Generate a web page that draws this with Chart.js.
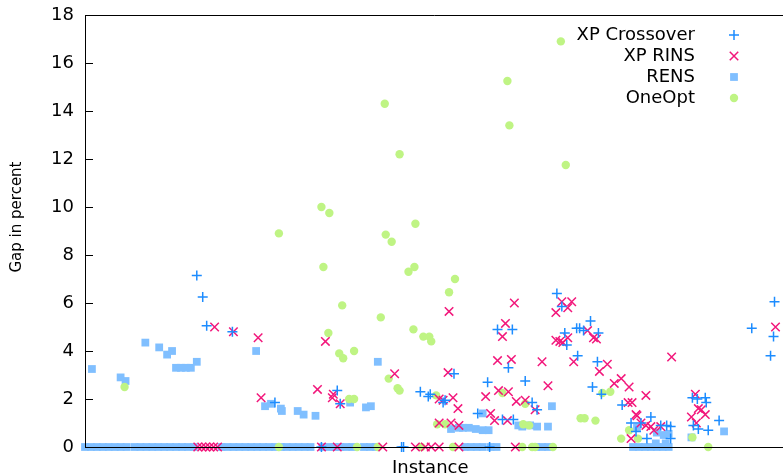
<!DOCTYPE html>
<html>
<head>
<meta charset="utf-8">
<script src="https://cdn.jsdelivr.net/npm/chart.js@4"></script>
<style>
  html, body { margin: 0; padding: 0; background: #fff; overflow: hidden; }
</style>
</head>
<body>
<canvas id="gapChart" width="783" height="475"></canvas>
<script>
// series labels, in gnuplot key order
const seriesLabels = ['XP Crossover', 'XP RINS', 'RENS', 'OneOpt'];
const yTicks = [0, 2, 4, 6, 8, 10, 12, 14, 16, 18];
const yTitle = 'Gap in percent';

// instances where the gap is 0
const crossZeroX = [119.5, 160, 161, 204.5];
const rinsZeroX = [57, 59, 61, 63, 65, 67, 119.5, 127.5, 150.5, 167, 172, 175, 179, 189, 217.5];
const rensZeroX = [0, 3, 6, 9, 12, 15, 18, 21, 25, 28, 31, 34, 37, 40, 43, 46, 49, 52, 55,
  69, 72, 75, 78, 81, 84, 87, 90, 93, 96, 99, 102, 105, 108, 111, 114,
  120, 123, 126, 129, 132, 135, 141, 144, 147, 192, 195, 198, 201, 205, 208,
  228, 231, 234, 277, 280, 283, 286, 289, 292, 295];
const oneOptZeroX = [98, 137.5, 148, 170, 186, 221, 226, 227.5, 236.5, 315];

// [instance, gap %]
const crossPts = [
  [56.5, 7.15], [59.5, 6.25], [61.5, 5.05], [74.5, 4.8], [96, 1.85], [127.5, 2.35], [129, 1.8],
  [169.5, 2.3], [173.5, 2.1], [174.5, 2.2], [181, 1.85], [182, 1.95], [186.5, 3.05], [198.5, 1.4],
  [203.5, 2.7], [208.5, 4.9], [211, 1.15], [214, 3.3], [216, 4.9], [216.5, 1.15], [222.5, 2.75],
  [226, 1.85], [228.5, 1.55], [238.5, 6.4], [241, 5.85], [242.5, 4.75], [243.5, 4.25], [248.5, 4.95],
  [250, 4.95], [252, 4.85], [255.5, 5.25], [259.5, 4.75], [249, 3.8], [259, 3.55], [256.5, 2.5],
  [261, 2.2], [271.5, 1.75], [276, 1.0], [278.5, 0.65], [281, 1.0], [284, 0.35], [286, 1.25],
  [291, 0.9], [294, 0.9], [296, 0.85], [296, 0.35], [307, 2.05], [309.5, 2.0], [313.5, 2.05],
  [314, 1.85], [307.5, 0.9], [310, 0.75], [315, 0.7], [320.5, 1.1], [337, 4.95], [348.5, 6.05],
  [348, 4.6], [346.5, 3.8]
];
const rinsPts = [
  [65.5, 5.0], [75, 4.8], [87.5, 4.55], [89, 2.05], [117.5, 2.4], [121.5, 4.4], [125.5, 2.2], [125, 2.05], [129, 1.8],
  [156.5, 3.05], [179, 2.0], [181, 1.95], [183.5, 3.1], [184, 5.65], [186, 2.05], [188.5, 1.6], [179, 1.0], [185, 1.0], [189, 0.9],
  [202.5, 2.1], [205, 1.4], [207, 1.1], [208.5, 3.6], [209, 2.35], [211, 4.6], [212.5, 5.15], [213.5, 1.1], [214, 2.3], [215.5, 3.65],
  [217, 6.0], [218, 1.9], [222.5, 1.95], [227.5, 1.55], [231, 3.55], [234, 2.55], [238, 5.6], [241, 6.05], [244, 5.8], [246, 6.05],
  [238, 4.45], [240, 4.4], [241.5, 4.35], [244, 4.55], [247, 3.55], [254, 4.85], [257, 4.55], [258.5, 4.5], [264, 3.45], [260, 3.15],
  [267.5, 2.65], [271, 2.85], [275, 2.5], [283.5, 2.15], [274.5, 1.85], [276.5, 1.85], [296.5, 3.75], [278.5, 1.35], [279, 1.3],
  [281, 1.0], [283.5, 0.9], [286, 0.85], [287.5, 0.7], [291, 0.85], [276, 0.35], [308.5, 2.2], [310, 1.6], [311.5, 1.55],
  [313.5, 1.35], [306.5, 1.25], [309, 1.0], [349, 5.0]
];
const rensPts = [
  [3.5, 3.25], [18, 2.9], [20.5, 2.75], [30.5, 4.35], [37.5, 4.15], [41.5, 3.85], [44, 4.0], [46, 3.3], [48.5, 3.3], [51, 3.3], [53.5, 3.3], [56.5, 3.55],
  [86.5, 4.0], [91, 1.7], [94, 1.8], [99, 1.6], [99.5, 1.5], [107.5, 1.5], [110.5, 1.35], [116.5, 1.3], [148, 3.55], [134, 1.85], [142, 1.65], [144.5, 1.7],
  [201, 1.4], [185, 0.75], [189, 0.8], [191, 0.8], [194, 0.8], [197.5, 0.75], [201, 0.7], [204, 0.7], [219, 0.9], [221, 0.85], [225, 0.9],
  [236, 1.7], [228.5, 0.85], [234, 0.85], [279, 0.8], [289, 0.6], [292.5, 0.5], [295, 0.55], [288.5, 0.15], [293.5, 0.15], [306.5, 0.4], [323, 0.65]
];
const oneOptPts = [
  [20, 2.5], [213.5, 15.25], [151.5, 14.3], [214.5, 13.4], [159, 12.2], [243, 11.75], [119.5, 10.0], [123.5, 9.75], [167, 9.3], [98, 8.9],
  [152, 8.85], [155, 8.55], [120.5, 7.5], [166.5, 7.5], [163.5, 7.3], [187, 7.0], [184, 6.45], [130, 5.9], [240.5, 16.9], [149.5, 5.4],
  [123, 4.75], [166, 4.9], [171, 4.6], [174, 4.6], [175, 4.4], [128.5, 3.9], [130.5, 3.7], [136, 4.0], [153.5, 2.85], [158, 2.45], [159, 2.35],
  [133.5, 2.0], [136, 2.0], [177.5, 2.15], [211, 2.25], [222.5, 1.8], [178, 0.95], [182, 0.95], [221.5, 0.95], [224.5, 0.9],
  [250.5, 1.2], [252.5, 1.2], [258, 1.1], [261.5, 2.25], [265.5, 2.3], [271, 0.35], [275, 0.7], [279.5, 0.35], [307, 0.4]
];

const FONT = '"DejaVu Sans", sans-serif';

function toData(zeroX, pts) {
  return zeroX.map(x => ({ x: x, y: 0 })).concat(pts.map(p => ({ x: p[0], y: p[1] })));
}

// gnuplot-like frame with inward y tics, drawn over the points
const framePlugin = {
  id: 'frame',
  afterDatasetsDraw(chart) {
    const ctx = chart.ctx;
    const a = chart.chartArea;
    const ys = chart.scales.y;
    ctx.save();
    ctx.strokeStyle = '#000';
    ctx.lineWidth = 1;
    ctx.beginPath();
    ctx.moveTo(783, a.top + 0.5);
    ctx.lineTo(a.left + 0.5, a.top + 0.5);
    ctx.lineTo(a.left + 0.5, a.bottom + 0.5);
    ctx.lineTo(783, a.bottom + 0.5);
    yTicks.forEach(v => {
      const py = Math.round(ys.getPixelForValue(v)) + 0.5;
      ctx.moveTo(a.left, py);
      ctx.lineTo(a.left + 8, py);
    });
    ctx.stroke();

    // y label, placed a bit above the axis middle like gnuplot does
    ctx.translate(17, 217);
    ctx.rotate(-Math.PI / 2);
    ctx.font = '15px ' + FONT;
    ctx.fillStyle = '#000';
    ctx.textAlign = 'center';
    ctx.textBaseline = 'middle';
    ctx.fillText(yTitle, 0, 0);
    ctx.restore();
  }
};

function drawMarker(ctx, ds, x, y) {
  ctx.save();
  if (ds.pointStyle === 'cross' || ds.pointStyle === 'crossRot') {
    ctx.strokeStyle = ds.borderColor;
    ctx.lineWidth = ds.borderWidth;
    const r = ds.pointRadius;
    ctx.beginPath();
    if (ds.pointStyle === 'cross') {
      ctx.moveTo(x - r, y); ctx.lineTo(x + r, y);
      ctx.moveTo(x, y - r); ctx.lineTo(x, y + r);
    } else {
      const d = r * Math.SQRT1_2;
      ctx.moveTo(x - d, y - d); ctx.lineTo(x + d, y + d);
      ctx.moveTo(x - d, y + d); ctx.lineTo(x + d, y - d);
    }
    ctx.stroke();
  } else if (ds.pointStyle === 'rect') {
    ctx.fillStyle = ds.backgroundColor;
    const s = ds.pointRadius * Math.SQRT1_2;
    ctx.fillRect(x - s, y - s, 2 * s, 2 * s);
  } else {
    ctx.fillStyle = ds.backgroundColor;
    ctx.beginPath();
    ctx.arc(x, y, ds.pointRadius, 0, Math.PI * 2);
    ctx.fill();
  }
  ctx.restore();
}

const keyPlugin = {
  id: 'key',
  afterDraw(chart) {
    const ctx = chart.ctx;
    ctx.save();
    ctx.font = '18px ' + FONT;
    ctx.fillStyle = '#000';
    ctx.textAlign = 'right';
    ctx.textBaseline = 'middle';
    chart.data.datasets.forEach((ds, i) => {
      const y = 35 + i * 21;
      ctx.fillText(ds.label, 695, y);
      drawMarker(ctx, ds, 734, y);
    });
    ctx.restore();
  }
};

new Chart(document.getElementById('gapChart').getContext('2d'), {
  type: 'scatter',
  data: {
    datasets: [
      {
        label: seriesLabels[0], data: toData(crossZeroX, crossPts), order: 1,
        pointStyle: 'cross', pointRadius: 5, borderWidth: 1.5,
        borderColor: '#1c8cff', backgroundColor: '#1c8cff', clip: false
      },
      {
        label: seriesLabels[1], data: toData(rinsZeroX, rinsPts), order: 2,
        pointStyle: 'crossRot', pointRadius: 6, borderWidth: 1.5,
        borderColor: '#f2177b', backgroundColor: '#f2177b', clip: false
      },
      {
        label: seriesLabels[2], data: toData(rensZeroX, rensPts), order: 4,
        pointStyle: 'rect', pointRadius: 5.5, borderWidth: 0,
        borderColor: '#80bfff', backgroundColor: '#80bfff', clip: false
      },
      {
        label: seriesLabels[3], data: toData(oneOptZeroX, oneOptPts), order: 3,
        pointStyle: 'circle', pointRadius: 4.2, borderWidth: 0,
        borderColor: '#bff484', backgroundColor: '#bff484', clip: false
      }
    ]
  },
  options: {
    responsive: false,
    animation: false,
    devicePixelRatio: 1,
    layout: { padding: { top: 15, right: 0, bottom: 0, left: 0 } },
    plugins: { legend: { display: false }, tooltip: { enabled: false } },
    scales: {
      x: {
        type: 'linear', min: 0, max: 349,
        grid: { display: false, drawTicks: false },
        border: { display: false },
        ticks: { display: false },
        title: { display: true, text: 'Instance', color: '#000', font: { family: FONT, size: 18 }, padding: { top: 0, bottom: -4 } },
        afterFit(s) { s.height = 28; s.paddingLeft = 0; s.paddingRight = 0; }
      },
      y: {
        min: 0, max: 18,
        grid: { display: false, drawTicks: false },
        border: { display: false },
        afterBuildTicks(s) { s.ticks = yTicks.map(v => ({ value: v })); },
        ticks: { color: '#000', padding: 11, font: { family: FONT, size: 18 } },
        title: { display: false },
        afterFit(s) { s.width = 85; s.paddingTop = 0; s.paddingBottom = 0; }
      }
    }
  },
  plugins: [framePlugin, keyPlugin]
});
</script>
</body>
</html>
